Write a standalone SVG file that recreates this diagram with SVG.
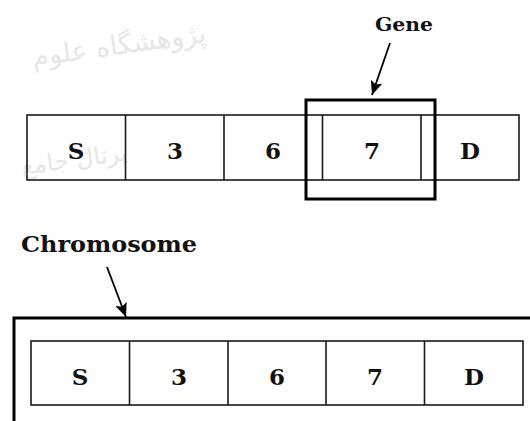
<svg xmlns="http://www.w3.org/2000/svg" width="530" height="421" viewBox="0 0 530 421">
<style>
.cell{fill:none;stroke:#1a1a1a;stroke-width:1.6}
.bold{fill:none;stroke:#000;stroke-width:3}
.t{font-family:"DejaVu Serif","Liberation Serif",serif;font-weight:bold;fill:#111;text-anchor:middle;font-size:23px}
.lbl{font-family:"DejaVu Serif","Liberation Serif",serif;font-weight:bold;fill:#111}
.wm{font-family:"DejaVu Sans","Noto Sans",sans-serif;fill:#e6e6e6;text-anchor:end}
.arr{stroke:#000;stroke-width:1.8;fill:none}
</style>
<defs>
<marker id="ah" viewBox="0 0 14 12" refX="14" refY="6" markerWidth="14" markerHeight="12" orient="auto" markerUnits="userSpaceOnUse">
<path d="M0,0 L14,6 L0,12 L3,6 z" fill="#000"/>
</marker>
</defs>
<g id="watermark">
<text class="wm" x="207" y="42" font-size="27" transform="rotate(-8 207 42)">پژوهشگاه علوم</text>
<text class="wm" x="128" y="160" font-size="24" transform="rotate(-8 128 160)">پرتال جامع</text>
</g>
<g id="gene-row">
<rect class="cell" x="27" y="115" width="492" height="65"/>
<line class="cell" x1="125.5" y1="115" x2="125.5" y2="180"/>
<line class="cell" x1="224" y1="115" x2="224" y2="180"/>
<line class="cell" x1="322.5" y1="115" x2="322.5" y2="180"/>
<line class="cell" x1="421" y1="115" x2="421" y2="180"/>
<text class="t" x="76" y="159">S</text>
<text class="t" x="175" y="159">3</text>
<text class="t" x="273" y="159">6</text>
<text class="t" x="372" y="159">7</text>
<text class="t" x="470" y="159">D</text>
</g>
<g id="gene-box">
<rect class="bold" x="306" y="100" width="129" height="99"/>
</g>
<g id="gene-label">
<text class="lbl" x="375" y="31" font-size="19" textLength="58" lengthAdjust="spacingAndGlyphs">Gene</text>
</g>
<g id="chromosome-label">
<text class="lbl" x="21" y="252" font-size="22" textLength="176" lengthAdjust="spacingAndGlyphs">Chromosome</text>
</g>
<g id="chromosome-frame">
<path class="bold" d="M14,421 L14,318 L530,318"/>
</g>
<g id="chromosome-row">
<rect class="cell" x="31" y="341" width="492" height="64"/>
<line class="cell" x1="129.5" y1="341" x2="129.5" y2="405"/>
<line class="cell" x1="228" y1="341" x2="228" y2="405"/>
<line class="cell" x1="326" y1="341" x2="326" y2="405"/>
<line class="cell" x1="424.5" y1="341" x2="424.5" y2="405"/>
<text class="t" x="80" y="385">S</text>
<text class="t" x="179" y="385">3</text>
<text class="t" x="277" y="385">6</text>
<text class="t" x="375" y="385">7</text>
<text class="t" x="474" y="385">D</text>
</g>
<g id="connectors">
<line class="arr" x1="390" y1="43" x2="372" y2="95" marker-end="url(#ah)"/>
<line class="arr" x1="107" y1="267" x2="126" y2="317" marker-end="url(#ah)"/>
</g>
</svg>
